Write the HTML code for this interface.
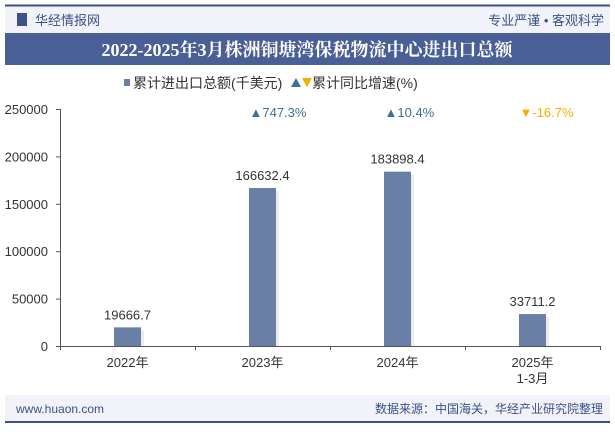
<!DOCTYPE html>
<html><head><meta charset="utf-8"><style>
body{margin:0;width:615px;height:427px;overflow:hidden;background:#fff;font-family:"Liberation Sans","Noto Sans CJK SC",sans-serif}
</style></head><body>
<svg width="615" height="427" xmlns="http://www.w3.org/2000/svg" font-family="Liberation Sans, Noto Sans CJK SC, sans-serif">
<rect x="5" y="6" width="605" height="27" fill="#f1f3f8"/>
<line x1="5" y1="5.5" x2="610" y2="5.5" stroke="#3d5089" stroke-width="2"/>
<rect x="17" y="13" width="10" height="13" fill="#3d5089"/>
<text x="35" y="25" font-size="13" fill="#3d5089">华经情报网</text>
<text x="604" y="25" font-size="13" fill="#3d5089" text-anchor="end">专业严谨 • 客观科学</text>
<rect x="5" y="33" width="605" height="32" fill="#4a5f96"/>
<text x="307" y="56" font-size="18" font-weight="bold" fill="#fff" text-anchor="middle" font-family="Liberation Serif, Noto Serif CJK SC, serif">2022-2025年3月株洲铜塘湾保税物流中心进出口总额</text>
<g font-size="14" fill="#333">
<rect x="124" y="79" width="6" height="7" fill="#6a7fa6"/>
<text x="133" y="88">累计进出口总额(千美元)</text>
<path d="M291,87 L296,78 L301,87Z" fill="#3d7193"/>
<path d="M302,78 L312,78 L307,87Z" fill="#f5b000"/>
<text x="312" y="88">累计同比增速(%)</text>
</g>
<g id="axes"></g><g id="bars"></g>
<rect x="5" y="395" width="605" height="26" fill="#f1f3f8"/>
<line x1="5" y1="422" x2="610" y2="422" stroke="#3d5089" stroke-width="2"/>
<text x="16" y="413" font-size="12" fill="#3d5089">www.huaon.com</text>
<text x="603" y="413" font-size="12" fill="#3d5089" text-anchor="end">数据来源：中国海关，华经产业研究院整理</text>
</svg>
<script>
const categories=["2022年","2023年","2024年","2025年|1-3月"];
const values=[19666.7,166632.4,183898.4,33711.2];
const growth=[null,747.3,10.4,-16.7];
const ticks=[0,50000,100000,150000,200000,250000];
const NS="http://www.w3.org/2000/svg";
const x0=60,x1=600,y0=346,yTop=109,maxV=250000;
const y=v=>y0-(v/maxV)*(y0-yTop);
const band=(x1-x0)/categories.length;
const cx=i=>x0+band*(i+0.5);
function mk(t,a,p){const e=document.createElementNS(NS,t);for(const k in a)e.setAttribute(k,a[k]);p.appendChild(e);return e;}
const ax=document.getElementById('axes'),bg=document.getElementById('bars');
let l=mk('line',{x1:x0+.5,y1:yTop,x2:x0+.5,y2:y0,stroke:'#555'},ax);


l=mk('line',{x1:x0,y1:y0+.5,x2:x1,y2:y0+.5,stroke:'#555'},ax);


ticks.forEach(t=>{
 const tk=mk('line',{x1:x0-4,y1:y(t)+.5,x2:x0,y2:y(t)+.5,stroke:'#555'},ax);
 
 
 const tx=mk('text',{x:x0-12,y:y(t)+5,'font-size':13,'text-anchor':'end',fill:'#333'},ax);
 tx.textContent=t;
 
 
});
for(let i=0;i<=categories.length;i++){
 const tk=mk('line',{x1:x0+band*i+.5,y1:y0,x2:x0+band*i+.5,y2:y0+4,stroke:'#555'},ax);
 
 
}
categories.forEach((c,i)=>{
 c.split('|').forEach((s,j)=>{
  const tx=mk('text',{x:cx(i),y:y0+21+j*16,'font-size':13,'text-anchor':'middle',fill:'#333'},ax);
  tx.textContent=s;
  
  
 });
 const bw=27,v=values[i];
 const sh=mk('rect',{x:cx(i)-bw/2+3,y:y(v)+3,width:bw,height:y0-y(v)-3,fill:'#ddd',opacity:.6},bg);
 
 
 const r=mk('rect',{x:cx(i)-bw/2,y:y(v),width:bw,height:y0-y(v),fill:'#6a7fa6'},bg);
 
 
 const vl=mk('text',{x:cx(i),y:y(v)-8,'font-size':13,'text-anchor':'middle',fill:'#333'},bg);
 vl.textContent=v.toFixed(1);
 
 
 const g=growth[i];
 if(g!==null){
  const up=g>=0,col=up?'#3d7193':'#f5b000';
  const tx=mk('text',{x:cx(i)-13,y:117,'font-size':13,fill:col},bg);
  tx.textContent=(up?'▲':'▼')+g.toFixed(1)+'%';
  
  
 }
});
</script>
</body></html>
